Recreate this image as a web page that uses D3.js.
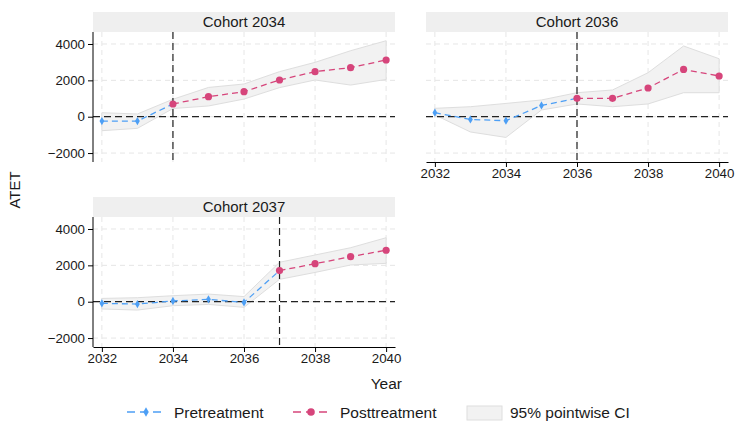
<!DOCTYPE html>
<html>
<head>
<meta charset="utf-8">
<script src="https://cdn.jsdelivr.net/npm/d3@7"></script>
<style>
  body { margin: 0; background: #fff; }
  text { font-family: "Liberation Sans", Arial, sans-serif; fill: #1a1a1a; }
</style>
</head>
<body>
<div id="chart"></div>
<script>
// data
var years = [2032, 2033, 2034, 2035, 2036, 2037, 2038, 2039, 2040];
var cohorts = [2034, 2036, 2037];

// point estimates (ATET) per cohort
var atet2034 = [-240, -240, 700, 1100, 1375, 2020, 2480, 2700, 3120];
var atet2036 = [220, -150, -220, 620, 1010, 1010, 1580, 2600, 2240];
var atet2037 = [-90, -130, 40, 130, -40, 1710, 2090, 2480, 2830];

// 95% pointwise CI
var lower2034 = [-770, -640, 450, 590, 970, 1600, 2020, 1740, 2050];
var upper2034 = [220, 150, 960, 1610, 1800, 2480, 2990, 3630, 4180];
var lower2036 = [100, -840, -1140, 370, 700, 550, 700, 1320, 1320];
var upper2036 = [460, 550, 730, 920, 1320, 1470, 2420, 3890, 3190];
var lower2037 = [-400, -460, -220, -150, -310, 1230, 1610, 2020, 2110];
var upper2037 = [180, 220, 330, 420, 280, 2170, 2570, 2970, 3520];

var xTicks = [2032, 2034, 2036, 2038, 2040];
var yTicks = [-2000, 0, 2000, 4000];

var legendLabels = ['Pretreatment', 'Posttreatment', '95% pointwise CI'];

var preColor = '#4d9ff5';
var postColor = '#d6457b';

var svgWidth = 735;
var svgHeight = 422;

var svg = d3.select('#chart')
    .append('svg')
    .attr('width', svgWidth)
    .attr('height', svgHeight);

// panel boxes (plot region, strip sits above)
var panels = [
    { cohort: cohorts[0], atet: atet2034, lo: lower2034, hi: upper2034, left: 93, top: 32, yAxis: true, xAxis: false },
    { cohort: cohorts[1], atet: atet2036, lo: lower2036, hi: upper2036, left: 426, top: 32, yAxis: false, xAxis: true },
    { cohort: cohorts[2], atet: atet2037, lo: lower2037, hi: upper2037, left: 93, top: 217, yAxis: true, xAxis: true }
];
var plotW = 302;
var plotH = 130;
var stripH = 20;

panels.forEach(function(p) {
    var g = svg.append('g')
        .attr('transform', `translate(${p.left}, ${p.top})`);

    var x = d3.scaleLinear().domain([2031.75, 2040.25]).range([0, plotW]);
    var y = d3.scaleLinear().domain([-2492, 4660]).range([plotH, 0]);

    // strip header
    g.append('rect')
        .attr('x', 0).attr('y', -stripH)
        .attr('width', plotW).attr('height', stripH)
        .attr('fill', '#efefef');
    g.append('text')
        .attr('x', plotW / 2).attr('y', -stripH / 2)
        .attr('dy', '0.36em')
        .attr('text-anchor', 'middle')
        .style('font-size', '15px')
        .text('Cohort ' + p.cohort);

    // grid
    g.selectAll('.vgrid').data(xTicks).enter().append('line')
        .attr('x1', d => x(d)).attr('x2', d => x(d))
        .attr('y1', 0).attr('y2', plotH)
        .attr('stroke', '#e6e6e6').attr('stroke-dasharray', '5,4');
    g.selectAll('.hgrid').data(yTicks).enter().append('line')
        .attr('x1', 0).attr('x2', plotW)
        .attr('y1', d => y(d)).attr('y2', d => y(d))
        .attr('stroke', '#e6e6e6').attr('stroke-dasharray', '5,4');

    var rows = years.map((yr, i) => ({ year: yr, b: p.atet[i], lo: p.lo[i], hi: p.hi[i] }));

    // CI band
    var area = d3.area()
        .x(d => x(d.year))
        .y0(d => y(d.lo))
        .y1(d => y(d.hi));
    g.append('path')
        .datum(rows)
        .attr('d', area)
        .attr('fill', '#f2f2f2')
        .attr('stroke', '#dedede')
        .attr('stroke-width', 1);

    // reference lines
    g.append('line')
        .attr('x1', 0).attr('x2', plotW)
        .attr('y1', y(0)).attr('y2', y(0))
        .attr('stroke', '#222').attr('stroke-width', 1.2)
        .attr('stroke-dasharray', '7,4');
    g.append('line')
        .attr('x1', x(p.cohort)).attr('x2', x(p.cohort))
        .attr('y1', 0).attr('y2', plotH)
        .attr('stroke', '#222').attr('stroke-width', 1.2)
        .attr('stroke-dasharray', '7,4');

    var line = d3.line().x(d => x(d.year)).y(d => y(d.b));
    var pre = rows.filter(d => d.year <= p.cohort);
    var post = rows.filter(d => d.year >= p.cohort);

    g.append('path').datum(pre).attr('d', line)
        .attr('fill', 'none').attr('stroke', preColor)
        .attr('stroke-width', 1.3).attr('stroke-dasharray', '6,4');
    g.append('path').datum(post).attr('d', line)
        .attr('fill', 'none').attr('stroke', postColor)
        .attr('stroke-width', 1.3).attr('stroke-dasharray', '6,4');

    var diamond = d3.symbol().type(d3.symbolDiamond).size(20);
    g.selectAll('.preMark').data(pre.filter(d => d.year < p.cohort)).enter().append('path')
        .attr('d', diamond)
        .attr('transform', d => `translate(${x(d.year)}, ${y(d.b)})`)
        .attr('fill', preColor);
    g.selectAll('.postMark').data(post).enter().append('circle')
        .attr('cx', d => x(d.year)).attr('cy', d => y(d.b))
        .attr('r', 3.6)
        .attr('fill', postColor);

    // axes
    if (p.yAxis) {
        var leftAxis = d3.axisLeft(y).tickValues(yTicks).tickFormat(d3.format('d'))
            .tickSize(5).tickPadding(3).tickSizeOuter(0);
        var ya = g.append('g').call(leftAxis);
        ya.select('.domain').attr('d', `M0,0V${plotH}`);
        ya.selectAll('text').style('font-size', '13.3px').attr('fill', '#1a1a1a');
    }
    if (p.xAxis) {
        var bottomAxis = d3.axisBottom(x).tickValues(xTicks).tickFormat(d3.format('d'))
            .tickSize(5).tickPadding(2).tickSizeOuter(0);
        var xa = g.append('g').attr('transform', `translate(0, ${plotH})`).call(bottomAxis);
        xa.selectAll('text').style('font-size', '13.3px').attr('fill', '#1a1a1a');
    }
});

// axis titles
svg.append('text')
    .attr('transform', 'translate(20, 190) rotate(-90)')
    .attr('text-anchor', 'middle')
    .style('font-size', '15px')
    .text('ATET');
svg.append('text')
    .attr('x', 402).attr('y', 389)
    .attr('text-anchor', 'end')
    .style('font-size', '15.5px')
    .text('Year');

// legend
var legend = svg.append('g').attr('transform', 'translate(0, 412)');

legend.append('line').attr('x1', 127).attr('x2', 165)
    .attr('stroke', preColor).attr('stroke-width', 1.5).attr('stroke-dasharray', '8,5');
legend.append('path').attr('d', d3.symbol().type(d3.symbolDiamond).size(26))
    .attr('transform', 'translate(146, 0)').attr('fill', preColor);
legend.append('text').attr('x', 174).attr('dy', '0.36em')
    .style('font-size', '15.5px').text(legendLabels[0]);

legend.append('line').attr('x1', 293).attr('x2', 331)
    .attr('stroke', postColor).attr('stroke-width', 1.5).attr('stroke-dasharray', '8,5');
legend.append('circle').attr('cx', 311).attr('cy', 0).attr('r', 3.8).attr('fill', postColor);
legend.append('text').attr('x', 340).attr('dy', '0.36em')
    .style('font-size', '15.5px').text(legendLabels[1]);

legend.append('rect').attr('x', 467).attr('y', -6).attr('width', 35).attr('height', 14)
    .attr('fill', '#f2f2f2').attr('stroke', '#dedede');
legend.append('text').attr('x', 510).attr('dy', '0.36em')
    .style('font-size', '15.5px').text(legendLabels[2]);
</script>
</body>
</html>
